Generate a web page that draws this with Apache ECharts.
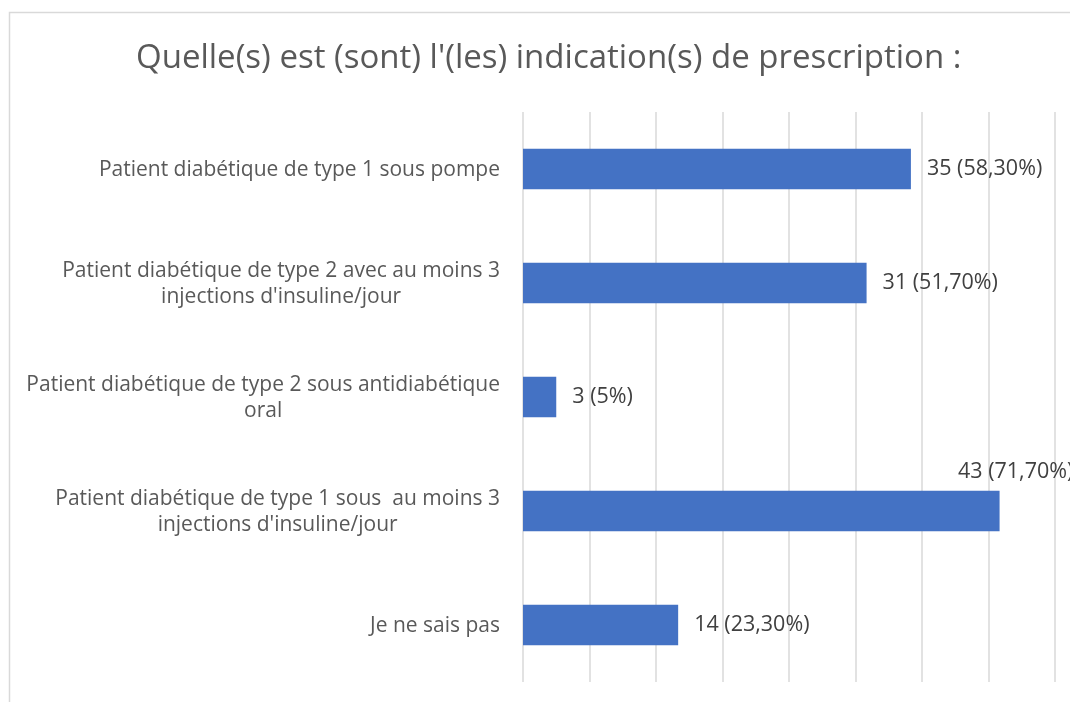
<!DOCTYPE html>
<html>
<head>
<meta charset="utf-8">
<script src="https://cdn.jsdelivr.net/npm/echarts@6/dist/echarts.min.js"></script>
<style>
html,body{margin:0;padding:0;background:#fff;}
#chart{width:1070px;height:702px;}
</style>
</head>
<body>
<div id="chart"></div>
<script>
const titleText = "Quelle(s) est (sont) l'(les) indication(s) de prescription :";
const categories = [
  "Patient diabétique de type 1 sous pompe",
  "Patient diabétique de type 2 avec au moins 3\ninjections d'insuline/jour",
  "Patient diabétique de type 2 sous antidiabétique\noral",
  "Patient diabétique de type 1 sous  au moins 3\ninjections d'insuline/jour",
  "Je ne sais pas"
];
const counts = [35, 31, 3, 43, 14];
const percents = ["58,30%", "51,70%", "5%", "71,70%", "23,30%"];
const axisMin = 0, axisMax = 48, axisInterval = 6;

const FONT = "Open Sans";
const chart = echarts.init(document.getElementById('chart'), null, {renderer: 'canvas'});

const data = counts.map((v, i) => {
  const item = {value: v};
  if (v === 43) {
    item.label = {position: [435, -19], align: 'left', verticalAlign: 'middle'};
  }
  return item;
});

chart.setOption({
  backgroundColor: '#ffffff',
  animation: false,
  title: {
    text: titleText,
    left: 131,
    top: 37,
    textStyle: {fontFamily: FONT, fontSize: 33, fontWeight: 'normal', color: '#595959'}
  },
  graphic: [{
    type: 'rect',
    shape: {x: 9.5, y: 12.5, width: 1200, height: 900},
    style: {fill: 'none', stroke: '#d9d9d9', lineWidth: 1.5},
    silent: true
  }],
  grid: {left: 523, right: 15, top: 112, bottom: 20, containLabel: false},
  xAxis: {
    type: 'value', min: axisMin, max: axisMax, interval: axisInterval,
    axisLabel: {show: false}, axisLine: {show: false}, axisTick: {show: false},
    splitLine: {show: true, lineStyle: {color: '#d9d9d9', width: 1.5}}
  },
  yAxis: {
    type: 'category', data: categories, inverse: true,
    axisLine: {show: false}, axisTick: {show: false},
    axisLabel: {
      margin: 23,
      align: 'right',
      padding: [3, 0, 0, 0],
      formatter: (s) => s.split('\n').map(l => '{c|' + l + '}').join('\n'),
      rich: {c: {align: 'center', fontFamily: FONT, fontSize: 21, color: '#595959', lineHeight: 26}}
    }
  },
  series: [{
    type: 'bar',
    data: data,
    barCategoryGap: '64.5%',
    itemStyle: {color: '#4472c4'},
    label: {
      show: true, position: 'right', distance: 16,
      fontFamily: FONT, fontSize: 21.5, color: '#404040',
      formatter: (p) => p.value + ' (' + percents[p.dataIndex] + ')'
    }
  }]
});
</script>
</body>
</html>
